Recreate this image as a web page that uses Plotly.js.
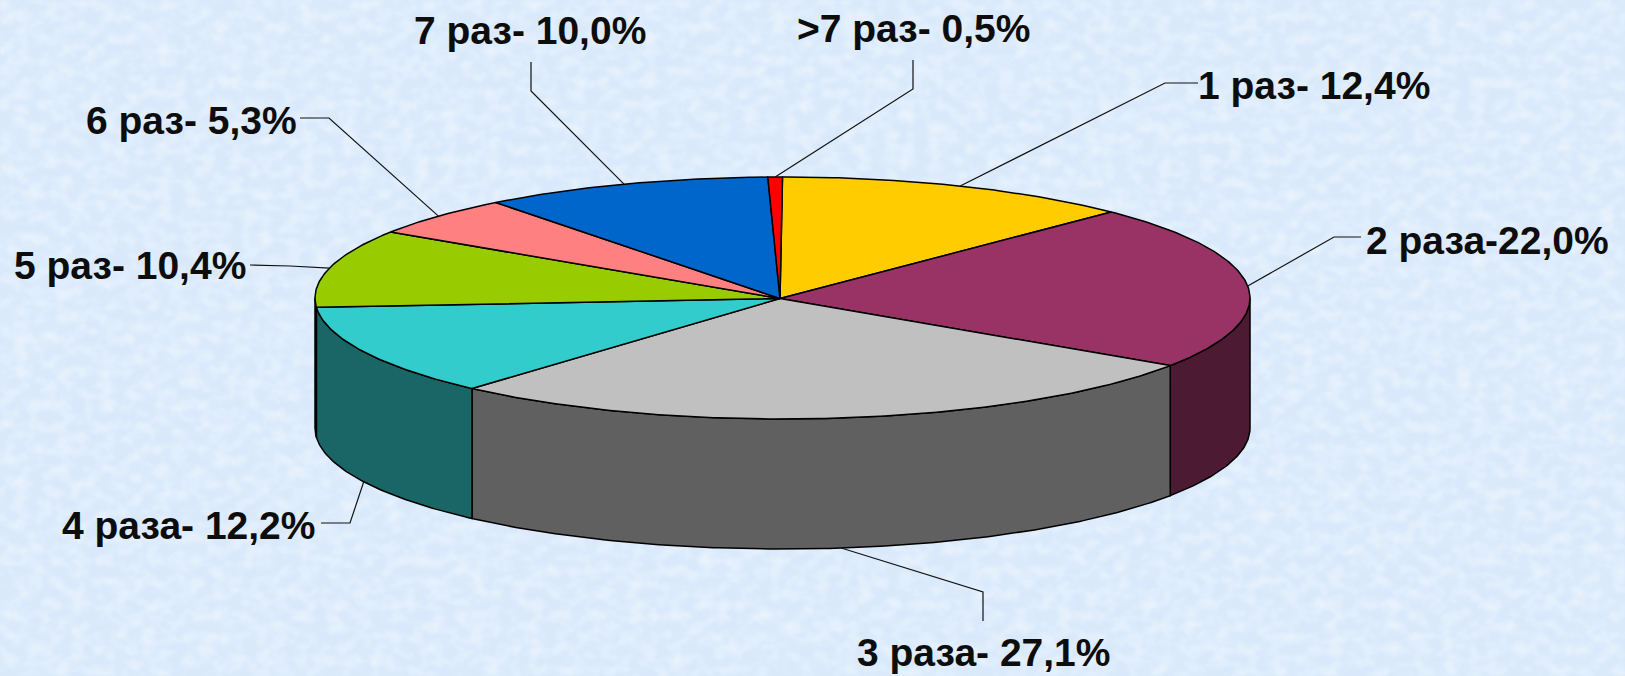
<!DOCTYPE html>
<html>
<head>
<meta charset="utf-8">
<script src="https://cdn.plot.ly/plotly-3.0.1.min.js"></script>
<style>
html,body{margin:0;padding:0;width:1625px;height:676px;overflow:hidden;background:#d6e7f9;}
#bg{position:absolute;left:0;top:0;}
#chart{position:absolute;left:0;top:0;width:1625px;height:676px;}
</style>
</head>
<body>
<svg id="bg" width="1625" height="676" xmlns="http://www.w3.org/2000/svg">
  <filter id="tex" x="0" y="0" width="100%" height="100%">
    <feTurbulence type="fractalNoise" baseFrequency="0.07 0.09" numOctaves="4" seed="11"/>
    <feColorMatrix type="matrix" values="0 0 0 0 1  0 0 0 0 1  0 0 0 0 1  2.2 0 0 0 -0.85"/>
    <feGaussianBlur stdDeviation="0.8"/>
  </filter>
  <filter id="tex2" x="0" y="0" width="100%" height="100%">
    <feTurbulence type="fractalNoise" baseFrequency="0.014 0.02" numOctaves="3" seed="3"/>
    <feColorMatrix type="matrix" values="0 0 0 0 0.72  0 0 0 0 0.84  0 0 0 0 0.97  1.6 0 0 0 -0.65"/>
  </filter>
  <rect width="1625" height="676" fill="#d9e9fb"/>
  <rect width="1625" height="676" filter="url(#tex2)" opacity="0.5"/>
  <rect width="1625" height="676" filter="url(#tex)" opacity="0.42"/>
</svg>
<div id="chart"></div>
<script>
// Data
const labels = ["1 раз- 12,4%","2 раза-22,0%","3 раза- 27,1%","4 раза- 12,2%","5 раз- 10,4%","6 раз- 5,3%","7 раз- 10,0%",">7 раз- 0,5%"];
const values = [12.4,22.0,27.1,12.2,10.4,5.3,10.0,0.5];
const topColors = ["#ffcc00","#993366","#c0c0c0","#33cccc","#99cc00","#ff8080","#0066cc","#ff0000"];
const wallColors = ["#665200","#4d1a33","#606060","#1a6666","#4d6600","#804040","#003366","#800000"];

// Layout of the drawing (pixels of the 1625x676 page)
const cx = 782.5, cy = 298, rx = 467.5, ry = 121, depth = 130;
const apexX = 780, apexY = 298.5;
const labelCenters = [[1314,85],[1487,240],[983,652],[188,525],[130,265],[191,120],[530,30],[913,28]];
const leaderElbows = [
  [[1198,83],[1165,83]],
  [[1361,237],[1334,237]],
  [[983,621],[983,592]],
  [[321,523],[350,523]],
  [[250,265],[290,266]],
  [[300,118],[329,118]],
  [[531,62],[531,91]],
  [[913,60],[913,89]]
];
const anchorOnBottomRim = [false,false,true,true,false,false,false,false];

const total = values.reduce((a,b)=>a+b,0);
const px = a => cx + rx*Math.sin(a);
const py = a => cy - ry*Math.cos(a);
const traces = [];
let edges = [0];
values.forEach(v => edges.push(edges[edges.length-1] + v/total*2*Math.PI));

function arc(a0,a1){
  const n = Math.max(2, Math.ceil((a1-a0)/0.01));
  const out = [];
  for(let i=0;i<=n;i++) out.push(a0+(a1-a0)*i/n);
  return out;
}
const frontFrom = Math.PI/2, frontTo = 3*Math.PI/2;
// side walls: only the front half of the cylinder is visible
values.forEach((v,i)=>{
  const a0 = Math.max(edges[i],frontFrom), a1 = Math.min(edges[i+1],frontTo);
  if(a1<=a0) return;
  const t = arc(a0,a1);
  const xs = t.map(px).concat(t.slice().reverse().map(px));
  const ys = t.map(a=>py(a)).concat(t.slice().reverse().map(a=>py(a)+depth));
  xs.push(xs[0]); ys.push(ys[0]);
  traces.push({type:'scatter',mode:'lines',x:xs,y:ys,fill:'toself',fillcolor:wallColors[i],
    line:{color:'#000',width:1.5},hoverinfo:'skip',showlegend:false});
});
// top slices
values.forEach((v,i)=>{
  const t = arc(edges[i],edges[i+1]);
  const xs = [apexX].concat(t.map(px),[apexX]);
  const ys = [apexY].concat(t.map(py),[apexY]);
  traces.push({type:'scatter',mode:'lines',x:xs,y:ys,fill:'toself',fillcolor:topColors[i],
    line:{color:'#000',width:1.5},name:labels[i],text:labels[i],hoverinfo:'text',showlegend:false});
});
// leader lines
values.forEach((v,i)=>{
  const mid = (edges[i]+edges[i+1])/2;
  const ax = px(mid), ay = py(mid) + (anchorOnBottomRim[i]?depth:0);
  const pts = leaderElbows[i].concat([[ax,ay]]);
  traces.push({type:'scatter',mode:'lines',x:pts.map(p=>p[0]),y:pts.map(p=>p[1]),
    line:{color:'#111',width:1.2},hoverinfo:'skip',showlegend:false});
});
const annotations = labels.map((s,i)=>({
  text:s,x:labelCenters[i][0],y:labelCenters[i][1],xref:'x',yref:'y',showarrow:false,
  xanchor:'center',yanchor:'middle',
  font:{family:'"Liberation Sans", Arial, sans-serif',size:39,color:'#0d0d0d',weight:700}
}));
const layout = {
  width:1625,height:676,margin:{l:0,r:0,t:0,b:0},
  paper_bgcolor:'rgba(0,0,0,0)',plot_bgcolor:'rgba(0,0,0,0)',
  xaxis:{range:[0,1625],visible:false,fixedrange:true},
  yaxis:{range:[676,0],visible:false,fixedrange:true},
  showlegend:false,annotations:annotations
};
Plotly.newPlot('chart',traces,layout,{displayModeBar:false});
</script>
</body>
</html>
